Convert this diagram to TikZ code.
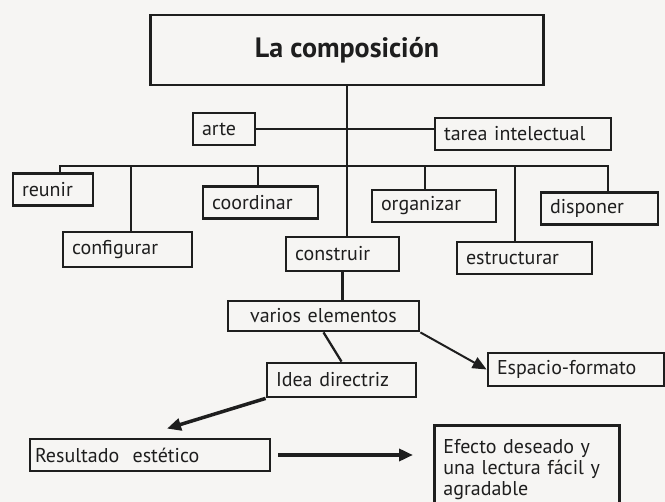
\documentclass[tikz,border=0pt]{standalone}
\usepackage{fontspec}
\setmainfont{PT Sans}
\usetikzlibrary{arrows.meta}
\definecolor{paper}{RGB}{246,245,243}
\definecolor{ink}{RGB}{30,30,30}
\tikzset{
  word/.style={draw=ink, line width=2.8pt, inner xsep=9pt, inner ysep=0pt, minimum height=32pt,
    text width=#1, align=left, text=ink, font=\fontsize{20}{21}\selectfont},
  link/.style={draw=ink, line width=2.3pt},
  push/.style={draw=ink, line width=#1, -{Triangle[length=14pt,width=12pt]}},
}
\begin{document}
\begin{tikzpicture}[x=1pt,y=-1pt]
    \fill[paper] (0,0) rectangle (665,502);
    \clip (0,0) rectangle (665,502);
    \node[draw=ink, line width=2.8pt, minimum width=393pt, minimum height=70pt, text=ink,
      font=\fontsize{28}{30}\selectfont\bfseries] (comp) at (347,50) {La composición};
    \node[word=44pt] (arte) at (224,129) {arte};
    \node[word=158pt] (tarea) at (523,134) {tarea intelectual};
    \node[word=62pt] (reunir) at (53,189.5) {reunir};
    \node[word=111pt, minimum height=35pt] (config) at (127.5,249.5) {configurar};
    \node[word=97pt] (coord) at (260.5,202.5) {coordinar};
    \node[word=95pt, minimum height=34pt] (constr) at (342.5,254) {construir};
    \node[word=106pt] (organ) at (434,206) {organizar};
    \node[word=117pt] (estruct) at (524.5,258) {estructurar};
    \node[word=99pt] (disp) at (599.5,208.5) {disponer};
    \node[word=173pt, align=center, minimum height=30pt] (varios) at (323.5,316) {varios elementos};
    \node[word=131pt, minimum height=34pt] (idea) at (341.5,380) {Idea directriz};
    \node[word=158pt, minimum height=33pt] (espacio) at (576,369.5) {Espacio-formato};
    \node[word=230pt, inner xsep=5pt] (result) at (150,455) {Resultado\ \ estético};
    \node[word=167pt, minimum height=88pt, anchor=north west] (efecto) at (433,424)
      {Efecto deseado y\\una lectura fácil y\\agradable};
    \coordinate (bar) at (0,166);
    \draw[link] (comp.south) -- (comp.south |- constr.north);
    \draw[link] (arte.east) -- (arte.east -| tarea.west);
    \draw[link] ([xshift=7pt]reunir.north) |- ([xshift=8.5pt]disp.north |- bar) -- ([xshift=8.5pt]disp.north);
    \draw[link] ([xshift=3.5pt]config.north) -- ([xshift=3.5pt]config.north |- bar);
    \draw[link] ([xshift=-2.5pt]coord.north) -- ([xshift=-2.5pt]coord.north |- bar);
    \draw[link] ([xshift=-9pt]organ.north) -- ([xshift=-9pt]organ.north |- bar);
    \draw[link] ([xshift=-9.5pt]estruct.north) -- ([xshift=-9.5pt]estruct.north |- bar);
    \draw[link] (constr.south) -- (constr.south |- varios.north);
    \draw[link] (varios.south) -- (idea.north);
    \draw[push=2pt] (varios.south east) -- (espacio.west);
    \draw[push=3.5pt] (idea.south west) -- ([xshift=17pt,yshift=9pt]result.north);
    \draw[push=3.5pt] ([xshift=7pt]result.east) -- ([xshift=-20pt]result.east -| efecto.west);
\end{tikzpicture}
\end{document}
